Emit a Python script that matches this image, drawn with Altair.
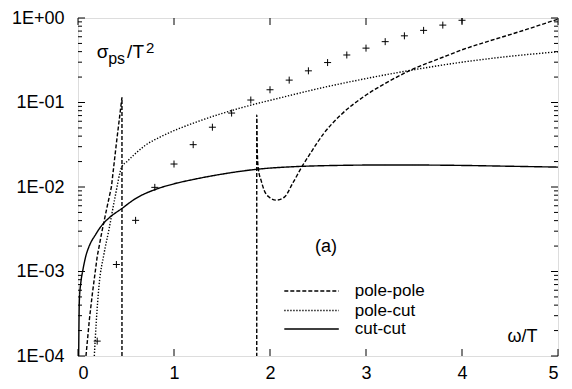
import altair as alt
import pandas as pd

# ---------------- data ----------------
pp1_x = [0.083, 0.12, 0.15, 0.2, 0.25, 0.3, 0.348, 0.4, 0.458, 0.458]
pp1_y = [1e-4, 2.8e-4, 5.5e-4, 1.5e-3, 3.0e-3, 5.6e-3, 1.0e-2, 3.3e-2, 0.115, 1e-6]

pp2_x = [1.8618, 1.862, 1.868, 1.88, 1.908, 1.94, 1.99, 2.063, 2.15, 2.235, 2.34, 2.42,
         2.56, 2.73, 2.98, 3.2, 3.46, 3.8, 4.0, 4.28, 4.6, 5.0]
pp2_y = [1e-6, 0.071, 0.025, 0.016, 0.0119, 0.0091, 0.0076, 0.0070, 0.0076, 0.011, 0.018, 0.025,
         0.043, 0.070, 0.118, 0.168, 0.24, 0.343, 0.42, 0.533, 0.69, 0.97]

pc_x = [0.17, 0.19, 0.22, 0.27, 0.324, 0.38, 0.46, 0.5, 0.6, 0.7, 0.875, 1.22, 1.53, 1.87,
        2.0, 2.56, 3.0, 3.46, 4.0, 4.28, 4.6, 5.0]
pc_y = [1e-4, 2.5e-4, 7e-4, 1.6e-3, 3.2e-3, 7e-3, 0.0177, 0.0195, 0.025, 0.031, 0.040, 0.058,
        0.076, 0.0975, 0.106, 0.151, 0.192, 0.24, 0.30, 0.33, 0.362, 0.398]

cc_x = [0.007, 0.014, 0.03, 0.048, 0.08, 0.117, 0.186, 0.255, 0.323, 0.46, 0.6, 0.8, 1.0,
        1.22, 1.5, 1.86, 2.3, 2.7, 3.08, 3.5, 4.0, 4.5, 5.0]
cc_y = [1e-4, 4.5e-4, 7.5e-4, 1e-3, 1.5e-3, 2e-3, 2.77e-3, 3.6e-3, 4.3e-3, 5.6e-3, 7.3e-3,
        9.3e-3, 1.09e-2, 1.24e-2, 1.42e-2, 1.62e-2, 1.75e-2, 1.8e-2, 1.82e-2, 1.82e-2, 1.8e-2,
        1.76e-2, 1.72e-2]

cross_x = [0.2, 0.4, 0.6, 0.8, 1.0, 1.2, 1.4, 1.6, 1.8, 2.0, 2.2, 2.4, 2.6, 2.8, 3.0, 3.2,
           3.4, 3.6, 3.8, 4.0]
cross_y = [1.5e-4, 1.21e-3, 4.03e-3, 9.9e-3, 1.87e-2, 3.17e-2, 5.1e-2, 7.5e-2, 0.107, 0.1415,
           0.184, 0.237, 0.297, 0.365, 0.44, 0.525, 0.615, 0.714, 0.824, 0.94]

series_names = ["pole-pole", "pole-cut", "cut-cut"]
x_ticks = [0, 1, 2, 3, 4, 5]
y_ticks = [1e-4, 1e-3, 1e-2, 1e-1, 1.0]
y_minor = [m * 10.0 ** k for k in range(-4, 0) for m in range(2, 10)]

# ---------------- layout ----------------
W, H = 480, 338
FONT = "Liberation Sans"


def seg(xs, ys, name):
    return pd.DataFrame({"x": xs, "y": ys, "series": name, "i": range(len(xs))})


xs = alt.Scale(domain=[0, 5], nice=False, zero=False)
ys = alt.Scale(type="log", domain=[1e-4, 1.0], nice=False)

x_axis = alt.Axis(values=x_ticks, ticks=False, domain=False, grid=False, title=None,
                  labelFontSize=18, labelPadding=8, labelFont=FONT, labelColor="black",
                  format="d")
y_axis = alt.Axis(values=y_ticks, ticks=False, domain=False, grid=False, title=None,
                  labelFontSize=18, labelPadding=14, labelFont=FONT, labelColor="black",
                  labelExpr="'1E' + (datum.value >= 1 ? '+' : '-') + '0' + abs(round(log(datum.value) / LN10))")


def X(f="x"):
    return alt.X(f"{f}:Q", scale=xs, axis=x_axis)


def Y(f="y"):
    return alt.Y(f"{f}:Q", scale=ys, axis=y_axis)


DASH = {"pole-pole": [4, 2], "pole-cut": [1.3, 1.7], "cut-cut": [1, 0]}


def curve(df, name, interp="linear"):
    return alt.Chart(df).mark_line(clip=True, color="black", strokeWidth=1.4,
                                   strokeDash=DASH[name], interpolate=interp).encode(
        x=X(), y=Y(), order=alt.Order("i:Q"))


pp1 = curve(seg(pp1_x, pp1_y, "pole-pole"), "pole-pole")
pp2 = curve(seg(pp2_x, pp2_y, "pole-pole"), "pole-pole", "monotone")
pc = curve(seg(pc_x, pc_y, "pole-cut"), "pole-cut", "monotone")
cc = curve(seg(cc_x, cc_y, "cut-cut"), "cut-cut", "monotone")

crosses = alt.Chart(pd.DataFrame({"x": cross_x, "y": cross_y})).mark_point(
    shape="M-1,0L1,0M0,-1L0,1", size=49, filled=False, color="black", strokeWidth=1,
    opacity=1, clip=True).encode(x=X(), y=Y())

# ticks (inward, mirrored)
ymaj = pd.DataFrame({"y": y_ticks})
ymin = pd.DataFrame({"y": y_minor})
xmaj = pd.DataFrame({"x": x_ticks})


def yrule(df, x0, x1):
    return alt.Chart(df).mark_rule(color="black", strokeWidth=1).encode(
        y=Y(), x=alt.value(x0), x2=alt.value(x1))


def xrule(df, y0, y1):
    return alt.Chart(df).mark_rule(color="black", strokeWidth=1).encode(
        x=X(), y=alt.value(y0), y2=alt.value(y1))


ticks = [
    yrule(ymaj, 0, 7), yrule(ymaj, W - 7, W),
    yrule(ymin, 0, 4), yrule(ymin, W - 4, W),
    xrule(xmaj, H - 7, H), xrule(xmaj, 0, 7),
]


# annotations
def txt(s, x, y, size, baseline="alphabetic", align="left"):
    return alt.Chart(pd.DataFrame({"t": [s]})).mark_text(
        text=s, font=FONT, fontSize=size, color="black", align=align, baseline=baseline
    ).encode(x=alt.value(x), y=alt.value(y))


ann = [
    txt("σ", 18.8, 40, 19),
    txt("ps", 30.2, 45.8, 16),
    txt("/T", 49.1, 40, 19),
    txt("2", 67.9, 34.6, 15),
    txt("(a)", 237, 229, 18, "middle"),
    txt("ω/T", 429.4, 318.5, 18, "middle"),
]

# legend (drawn inside the plot)
leg_rows = [273, 292.5, 311]
legend = []
for name, yy in zip(series_names, leg_rows):
    legend.append(alt.Chart(pd.DataFrame({"s": [name]})).mark_rule(
        color="black", strokeWidth=1.4, strokeDash=DASH[name]).encode(
        x=alt.value(206.3), x2=alt.value(260.8), y=alt.value(yy)))
    legend.append(txt(name, 276.7, yy, 17, "middle"))

chart = alt.layer(pp1, pp2, pc, cc, crosses, *ticks, *ann, *legend).properties(
    width=W, height=H,
    autosize=alt.AutoSizeParams(type="none"),
    padding={"left": 70, "top": 10, "right": 6, "bottom": 25},
).configure_view(stroke="black", strokeWidth=1).configure(font=FONT)

chart.save("out.html", embed_options={"renderer": "svg", "actions": False})
